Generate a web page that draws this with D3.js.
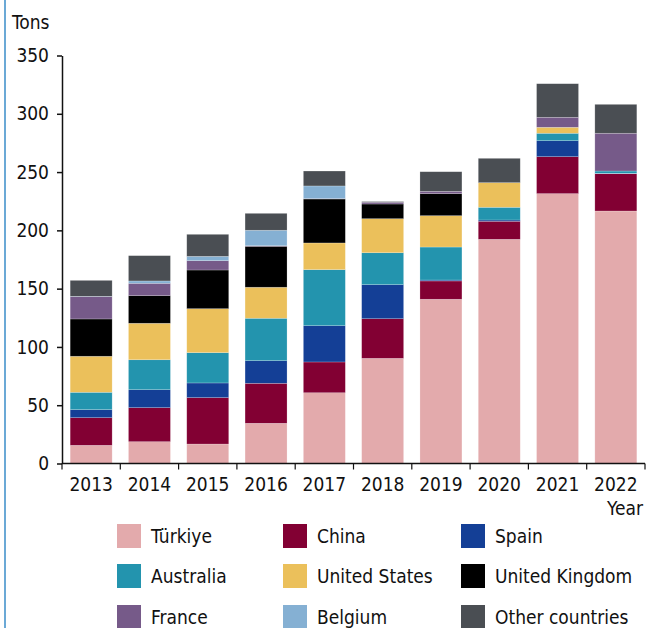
<!DOCTYPE html>
<html>
<head>
<meta charset="utf-8">
<script src="https://cdn.jsdelivr.net/npm/d3@7"></script>
<style>
  body { margin: 0; background: #fff; }
  svg text { font-family: "Liberation Sans Narrow", "DejaVu Sans Condensed", "Roboto", sans-serif; fill: #111; }
</style>
</head>
<body>
<div id="chart"></div>
<script>
var years = ["2013", "2014", "2015", "2016", "2017", "2018", "2019", "2020", "2021", "2022"];
var countries = ["Türkiye", "China", "Spain", "Australia", "United States", "United Kingdom", "France", "Belgium", "Other countries"];
var colors = ["#e3aaac", "#820033", "#143f96", "#2394ae", "#ebc05b", "#000000", "#765a89", "#85b0d3", "#4a4e53"];

// tons per year, one array per country (same order as years)
var turkiye   = [15.6, 18.7, 16.7, 34.5, 60.7, 90.2, 140.9, 192.3, 231.5, 216.6];
var china     = [23.7, 29.2, 39.8, 34.3, 26.4, 34.0, 15.7, 15.5, 31.7, 32.0];
var spain     = [6.9, 15.4, 12.6, 19.4, 31.1, 29.2, 0.8, 1.1, 13.7, 0.3];
var australia = [14.9, 25.7, 26.0, 36.4, 48.1, 27.4, 28.3, 10.9, 6.4, 2.0];
var us        = [30.9, 31.3, 37.7, 26.6, 22.9, 29.2, 26.9, 21.1, 5.1, 0];
var uk        = [32.0, 23.7, 33.2, 35.1, 37.7, 12.6, 18.9, 0, 0, 0];
var france    = [19.1, 10.6, 8.0, 0.5, 0.3, 1.5, 2.0, 0, 8.6, 32.4];
var belgium   = [0.3, 2.0, 3.7, 13.3, 10.9, 0, 0, 0, 0, 0];
var other     = [13.7, 21.7, 18.9, 14.5, 12.8, 0.6, 16.8, 20.9, 28.8, 24.8];

var yTicks = [0, 50, 100, 150, 200, 250, 300, 350];

var series = [turkiye, china, spain, australia, us, uk, france, belgium, other];

var table = years.map(function(yr, i) {
  var row = { year: yr };
  countries.forEach(function(c, k) { row[c] = series[k][i]; });
  return row;
});

var w = 646, h = 628;
var svg = d3.select("#chart").append("svg").attr("width", w).attr("height", h);

// blue frame line on the left
svg.append("line").attr("x1", 5).attr("x2", 5).attr("y1", 0).attr("y2", h)
  .attr("stroke", "#3a8cc8").attr("stroke-width", 1.5);

var plotL = 62, plotR = 645, plotT = 55.5, plotB = 463.5;

var x = d3.scaleBand().domain(years).range([plotL, plotR]).paddingInner(0.28).paddingOuter(0.14);
var y = d3.scaleLinear().domain([0, 350]).range([plotB, plotT]);

var stack = d3.stack().keys(countries)(table);

svg.append("g").selectAll("g")
  .data(stack)
  .enter().append("g")
    .attr("fill", function(d, i) { return colors[i]; })
  .selectAll("rect")
  .data(function(d) { return d; })
  .enter().append("rect")
    .attr("x", function(d) { return x(d.data.year); })
    .attr("y", function(d) { return y(d[1]); })
    .attr("width", x.bandwidth())
    .attr("height", function(d) { return Math.max(0, y(d[0]) - y(d[1])); })
    .attr("stroke", "#ffffff")
    .attr("stroke-opacity", 0.35)
    .attr("stroke-width", 0.6);

// y axis
var yAxis = svg.append("g")
  .attr("transform", "translate(" + plotL + ",0)")
  .call(d3.axisLeft(y).tickValues(yTicks).tickSize(5).tickPadding(8).tickSizeOuter(0));
yAxis.select(".domain").attr("stroke", "#111").attr("stroke-width", 1.5);
yAxis.selectAll(".tick line").attr("stroke", "#111").attr("stroke-width", 1.5);
yAxis.selectAll(".tick text").attr("font-size", 19).style("font-family", null).attr("fill", "#111");

// x axis with ticks at band edges
var xg = svg.append("g").attr("transform", "translate(0," + plotB + ")");
xg.append("line").attr("x1", plotL).attr("x2", plotR).attr("stroke", "#111").attr("stroke-width", 1.5);
xg.selectAll(".edge")
  .data(years.concat(["end"]))
  .enter().append("line")
    .attr("x1", function(d, i) { return plotL + i * (plotR - plotL) / years.length; })
    .attr("x2", function(d, i) { return plotL + i * (plotR - plotL) / years.length; })
    .attr("y1", 0).attr("y2", 6)
    .attr("stroke", "#111").attr("stroke-width", 1.2);
xg.selectAll(".lab")
  .data(years)
  .enter().append("text")
    .attr("x", function(d) { return x(d) + x.bandwidth() / 2; })
    .attr("y", 27)
    .attr("text-anchor", "middle")
    .attr("font-size", 19)
    .text(function(d) { return d; });

svg.append("text").attr("x", 643).attr("y", 515).attr("text-anchor", "end")
  .attr("font-size", 19).text("Year");
svg.append("text").attr("x", 12).attr("y", 29).attr("font-size", 19).text("Tons");

// legend
var legX = [117, 283, 461], legY = [536, 576, 617];
var leg = svg.append("g").selectAll("g")
  .data(countries)
  .enter().append("g")
    .attr("transform", function(d, i) { return "translate(" + legX[i % 3] + "," + legY[Math.floor(i / 3)] + ")"; });
leg.append("rect").attr("x", 0).attr("y", -12).attr("width", 24).attr("height", 24)
  .attr("fill", function(d, i) { return colors[i]; });
leg.append("text").attr("x", 34).attr("y", 7).attr("font-size", 19)
  .text(function(d) { return d; });
</script>
</body>
</html>
